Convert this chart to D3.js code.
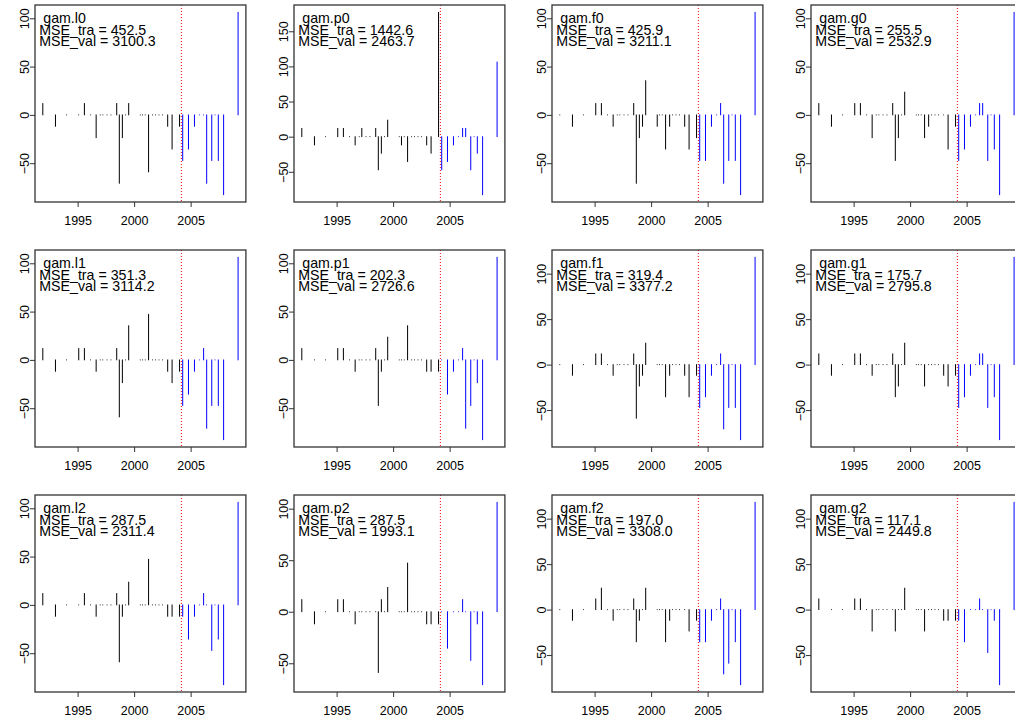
<!DOCTYPE html>
<html><head><meta charset="utf-8">
<script src="https://cdn.jsdelivr.net/npm/d3@7"></script>
<style>
body{margin:0;background:#fff;}
svg{display:block;font-family:"Liberation Sans",Arial,sans-serif;}
</style></head><body>
<svg id="chart" width="1015" height="719"></svg>
<script>
// ---- data ----
const times = [1991.92, 1993.04, 1994.02, 1995.10, 1995.60, 1996.15, 1996.64, 1997.00, 1997.23, 1997.60,
  1997.95, 1998.46, 1998.69, 1998.96, 1999.24, 1999.52, 2000.54, 2000.74, 2000.98, 2001.28,
  2001.64, 2001.90, 2002.20, 2002.50, 2002.97, 2003.36, 2004.02, 2004.30, 2004.81, 2005.34,
  2005.80, 2006.15, 2006.42, 2006.87, 2007.16, 2007.45, 2007.92, 2009.20];
const splitTime = 2004.18;

const panelNames = ["gam.l0","gam.p0","gam.f0","gam.g0","gam.l1","gam.p1","gam.f1","gam.g1","gam.l2","gam.p2","gam.f2","gam.g2"];
const mseTra = [452.5, 1442.6, 425.9, 255.5, 351.3, 202.3, 319.4, 175.7, 287.5, 287.5, 197.0, 117.1];
const mseVal = [3100.3, 2463.7, 3211.1, 2532.9, 3114.2, 2726.6, 3377.2, 2795.8, 2311.4, 1993.1, 3308.0, 2449.8];

const res_l0 = [11.8,-11.8,0,0,11.8,0,-23.6,0,0,0, 0,11.8,-70.8,-23.6,0,11.8,0,0,0,-59.0, 0,0,0,0,-11.8,-35.4,-11.8,-47.2,-35.4,-11.8, 0,0,-70.8,-47.2,0,-47.2,-82.6,106.2];
const res_p0 = [11.8,-11.8,0,11.8,11.8,0,-11.8,0,11.8,0, 0,11.8,-47.2,-23.6,0,23.6,0,-11.8,0,-35.4, 0,0,0,0,-11.8,-23.6,177.0,-47.2,-35.4,-11.8, 0,11.8,11.8,-47.2,0,-23.6,-82.6,106.2];
const res_f0 = [0,-11.8,0,11.8,11.8,0,-11.8,0,0,0, 0,11.8,-70.8,-23.6,-11.8,35.4,-11.8,0,0,-35.4, -11.8,0,0,0,-11.8,-35.4,-23.6,-47.2,-47.2,-11.8, 0,11.8,-70.8,-47.2,0,-47.2,-82.6,106.2];
const res_g0 = [11.8,-11.8,0,11.8,11.8,0,-23.6,0,0,0, 0,11.8,-47.2,-23.6,0,23.6,0,0,0,-23.6, -11.8,0,0,0,0,-35.4,-11.8,-47.2,-35.4,-11.8, 0,11.8,11.8,-47.2,0,-35.4,-82.6,106.2];
const res_l1 = [11.8,-11.8,0,11.8,11.8,0,-11.8,0,0,0, 0,11.8,-59.0,-23.6,0,35.4,0,0,0,47.2, 0,0,0,0,-11.8,-23.6,-11.8,-47.2,-35.4,-11.8, 0,11.8,-70.8,-47.2,0,-47.2,-82.6,106.2];
const res_p1 = [11.8,0,0,11.8,11.8,0,-11.8,0,0,0, 0,11.8,-47.2,-11.8,0,23.6,0,0,0,35.4, 0,0,0,0,-11.8,-11.8,-11.8,0,-35.4,-11.8, 0,11.8,-70.8,-47.2,0,-23.6,-82.6,106.2];
const res_f1 = [0,-11.8,0,11.8,11.8,0,-11.8,0,0,0, 0,11.8,-59.0,-23.6,-11.8,23.6,0,0,0,-35.4, -11.8,0,0,0,-11.8,-35.4,-11.8,-47.2,-35.4,-11.8, 0,11.8,-70.8,-47.2,0,-47.2,-82.6,118.0];
const res_g1 = [11.8,-11.8,0,11.8,11.8,0,-11.8,0,0,0, 0,11.8,-35.4,-23.6,0,23.6,0,0,0,-23.6, 0,0,0,0,-11.8,-23.6,-11.8,-47.2,-35.4,-11.8, 0,11.8,11.8,-47.2,0,-35.4,-82.6,118.0];
const res_l2 = [11.8,-11.8,0,0,11.8,0,-11.8,0,0,0, 0,11.8,-59.0,-11.8,0,23.6,0,0,0,47.2, 0,0,0,0,-11.8,-11.8,-11.8,-11.8,-35.4,-11.8, 0,11.8,0,-47.2,0,-35.4,-82.6,106.2];
const res_p2 = [11.8,-11.8,0,11.8,11.8,0,-11.8,0,0,0, 0,0,-59.0,11.8,0,23.6,0,0,0,47.2, 0,0,0,0,-11.8,-11.8,-11.8,0,-35.4,0, 0,11.8,0,-47.2,0,-11.8,-70.8,106.2];
const res_f2 = [0,-11.8,0,11.8,23.6,0,-11.8,0,0,0, 0,11.8,-35.4,-11.8,0,23.6,0,0,0,-35.4, -11.8,0,0,0,0,-23.6,-11.8,-35.4,-35.4,-11.8, 0,11.8,-70.8,-59.0,0,-35.4,-82.6,118.0];
const res_g2 = [11.8,0,0,11.8,11.8,0,-23.6,0,0,0, 0,0,-23.6,0,0,23.6,0,0,0,-23.6, 0,0,0,0,-11.8,-11.8,-11.8,-11.8,-35.4,0, 0,11.8,0,-47.2,0,-11.8,-82.6,118.0];
const panelValues = [res_l0,res_p0,res_f0,res_g0,res_l1,res_p1,res_f1,res_g1,res_l2,res_p2,res_f2,res_g2];

// ---- layout ----
const cellW = 258.7, cellH = 245;
const mLeft = 35, mTop = 5;
const plotW = 210.9, plotH = 197;
const FONT = '"Liberation Sans",Arial,sans-serif';

const svg = d3.select("#chart");
svg.append("rect").attr("width",1015).attr("height",719).attr("fill","#fff");

function rExpand(ext){ const p = (ext[1]-ext[0])*0.04; return [ext[0]-p, ext[1]+p]; }

panelValues.forEach((vals, i) => {
  const col = i % 4, row = Math.floor(i / 4);
  const ox = Math.round(col*cellW) + mLeft, oy = row*cellH + mTop;
  const g = svg.append("g").attr("transform", `translate(${ox},${oy})`);
  const x = d3.scaleLinear().domain(rExpand(d3.extent(times))).range([0, plotW]);
  const y = d3.scaleLinear().domain(rExpand(d3.extent(vals))).range([plotH, 0]);
  const data = times.map((t, k) => ({t, v: vals[k]}));

  // split line
  g.append("line")
    .attr("x1", x(splitTime)).attr("x2", x(splitTime))
    .attr("y1", 0).attr("y2", plotH)
    .attr("stroke", "#ff0000").attr("stroke-width", 1).attr("stroke-dasharray", "1,2");

  // histogram-like bars
  g.selectAll("line.bar").data(data).enter().append("line")
    .attr("class","bar")
    .attr("x1", d => x(d.t)).attr("x2", d => x(d.t))
    .attr("y1", y(0)).attr("y2", d => y(d.v))
    .attr("stroke", d => d.t < splitTime ? "#000000" : "#0000ff")
    .attr("stroke-width", 1).attr("stroke-linecap", "round");

  // box
  g.append("rect").attr("x",0).attr("y",0).attr("width",plotW).attr("height",plotH)
    .attr("fill","none").attr("stroke","#333").attr("stroke-width",1.3);

  // x axis
  const xa = g.append("g").attr("transform", `translate(0,${plotH})`)
    .call(d3.axisBottom(x).ticks(5).tickSize(5).tickPadding(9.3).tickFormat(d3.format("d")));
  xa.select(".domain").remove();
  xa.selectAll("line").attr("stroke","#333");
  xa.selectAll("text").attr("font-size", 12.5).attr("fill","#000").attr("font-family",FONT);

  // y axis
  const ya = g.append("g").call(d3.axisLeft(y).ticks(5).tickSize(5));
  ya.select(".domain").remove();
  ya.selectAll("line").attr("stroke","#333");
  ya.selectAll("text")
    .attr("x", null).attr("dy", null)
    .attr("text-anchor","middle")
    .attr("transform","translate(-6,0) rotate(-90)")
    .attr("font-size", 12.5).attr("fill","#000").attr("font-family",FONT);

  // annotation
  const lines = [" " + panelNames[i], "MSE_tra = " + mseTra[i].toFixed(1), "MSE_val = " + mseVal[i].toFixed(1)];
  g.selectAll("text.ann").data(lines).enter().append("text")
    .attr("class","ann")
    .attr("x", 4.3).attr("y", (d, k) => 18.3 + k*11.2)
    .style("white-space","pre")
    .attr("font-size", 14.2).attr("fill","#000").attr("font-family",FONT)
    .text(d => d);
});
</script>
</body></html>
